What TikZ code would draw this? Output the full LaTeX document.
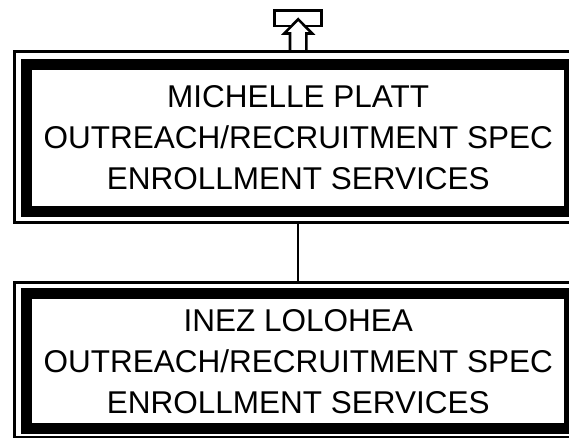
\documentclass[tikz,border=0pt]{standalone}
\usepackage{fontspec}
\setmainfont{Liberation Sans}
\begin{document}
\begin{tikzpicture}[x=1pt,y=-1pt,
  outerframe/.style={draw=black,line width=2.5pt,fill=none,inner sep=0pt,outer sep=0pt,minimum width=567.5pt},
  thickframe/.style={draw=black,line width=11pt,fill=white,inner sep=0pt,outer sep=0pt,minimum width=543.4pt},
  lbl/.style={anchor=base,inner sep=0pt,font=\fontsize{31.5}{41}\selectfont},
  connector/.style={draw=black,line width=2pt},
  topframe/.style={draw=black,line width=2.8pt,fill=white,inner sep=0pt,outer sep=0pt,minimum width=47pt,minimum height=15.3pt},
  blockarrow/.style={draw=black,line width=2.6pt,fill=white,line join=miter}]
\useasboundingbox (0,0) rectangle (569,439);
\clip (0,0) rectangle (569,439);
% box 1
\node[outerframe,minimum height=171pt] (b1o) at (298.2,137) {};
\node[thickframe,minimum height=147pt] (b1) at (298.2,138) {};
\node[lbl] (b1l1) at (298.2,107.5) {MICHELLE PLATT};
\node[lbl] (b1l2) at (298.2,148.5) {OUTREACH/RECRUITMENT SPEC};
\node[lbl] (b1l3) at (298.2,189.5) {ENROLLMENT SERVICES};
% box 2
\node[outerframe,minimum height=154.7pt] (b2o) at (298.2,359.85) {};
\node[thickframe,minimum height=134.7pt] (b2) at (298.2,361.15) {};
\node[lbl] (b2l1) at (298.2,331.5) {INEZ LOLOHEA};
\node[lbl] (b2l2) at (298.2,372.5) {OUTREACH/RECRUITMENT SPEC};
\node[lbl] (b2l3) at (298.2,413.5) {ENROLLMENT SERVICES};
% connector
\draw[connector] (b1o.south) -- (b2o.north);
% top marker
\node[topframe] (topbox) at (298.2,18.35) {};
\draw[blockarrow] (b1o.north) ++(-8.2,0) -- ++(0,-18) -- ++(-5.8,0)
  -- ++(14,-14.2) -- ++(14,14.2) -- ++(-5.8,0) -- ++(0,18) -- cycle;
\end{tikzpicture}
\end{document}
